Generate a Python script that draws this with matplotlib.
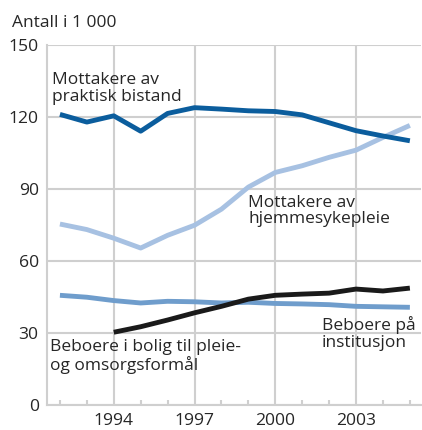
import matplotlib
matplotlib.use("Agg")
import matplotlib.pyplot as plt
from matplotlib.ticker import MultipleLocator

plt.rcParams['font.family'] = ['Open Sans', 'DejaVu Sans']

# Values in 1 000
years = list(range(1992, 2006))
praktisk = [121.0, 117.8, 120.4, 114.0, 121.4, 123.8, 123.2, 122.5, 122.2, 120.8, 117.5, 114.2, 112.0, 110.0]
hjemmesyk = [75.3, 73.0, 69.4, 65.3, 70.6, 74.8, 81.5, 90.7, 96.8, 99.6, 103.1, 106.1, 111.4, 116.4]
institusjon = [45.6, 44.8, 43.4, 42.4, 43.1, 42.9, 42.4, 42.7, 42.2, 42.0, 41.7, 41.0, 40.8, 40.6]
bolig_years = list(range(1994, 2006))
bolig = [30.2, 32.5, 35.3, 38.3, 41.0, 44.0, 45.6, 46.1, 46.5, 48.2, 47.4, 48.6]

grid_col = '#cfcfcf'
text_col = '#262626'

fig = plt.figure(figsize=(4.22, 4.30), dpi=100)
ax = fig.add_axes([0.1114, 0.0588, 0.886, 0.837])

lw = 3.5
ax.plot(years, institusjon, color='#6f9dcc', lw=lw, solid_capstyle='butt', zorder=3)
ax.plot(bolig_years, bolig, color='#1a1a1a', lw=lw, solid_capstyle='butt', zorder=4)
ax.plot(years, hjemmesyk, color='#a7c1e2', lw=lw, solid_capstyle='butt', zorder=3)
ax.plot(years, praktisk, color='#0b5d9d', lw=lw, solid_capstyle='butt', zorder=5)

ax.set_xlim(1991.52, 2005.41)
ax.set_ylim(0, 150)
ax.set_yticks([0, 30, 60, 90, 120, 150])
ax.set_xticks([1994, 1997, 2000, 2003])
ax.xaxis.set_minor_locator(MultipleLocator(1))
ax.grid(True, color=grid_col, lw=1.5, zorder=1)
ax.set_axisbelow(True)

for s in ['top', 'right']:
    ax.spines[s].set_visible(False)
for s in ['left', 'bottom']:
    ax.spines[s].set_color(grid_col)
    ax.spines[s].set_linewidth(1.5)

ax.tick_params(axis='y', length=0, pad=6, labelsize=12.6, labelcolor=text_col)
ax.tick_params(axis='x', which='major', length=0, pad=6, labelsize=12.6, labelcolor=text_col)
ax.tick_params(axis='x', which='minor', direction='in', length=3.5, width=1.5, color=grid_col)

lab = dict(fontsize=12.5, color=text_col, va='top', ha='left', linespacing=1.04)
ax.text(1991.70, 138.5, 'Mottakere av\npraktisk bistand', **lab)
ax.text(1998.99, 87.6, 'Mottakere av\nhjemmesykepleie', **lab)
ax.text(1991.62, 27.2, 'Beboere i bolig til pleie-\nog omsorgsformål', **lab)
ax.text(2001.72, 36.9, 'Beboere på\ninstitusjon', **lab)

fig.text(12 / 422, 1 - 27 / 430, 'Antall i 1 000', fontsize=12.5, color=text_col, va='baseline', ha='left')

fig.savefig('out.png', dpi=100)
